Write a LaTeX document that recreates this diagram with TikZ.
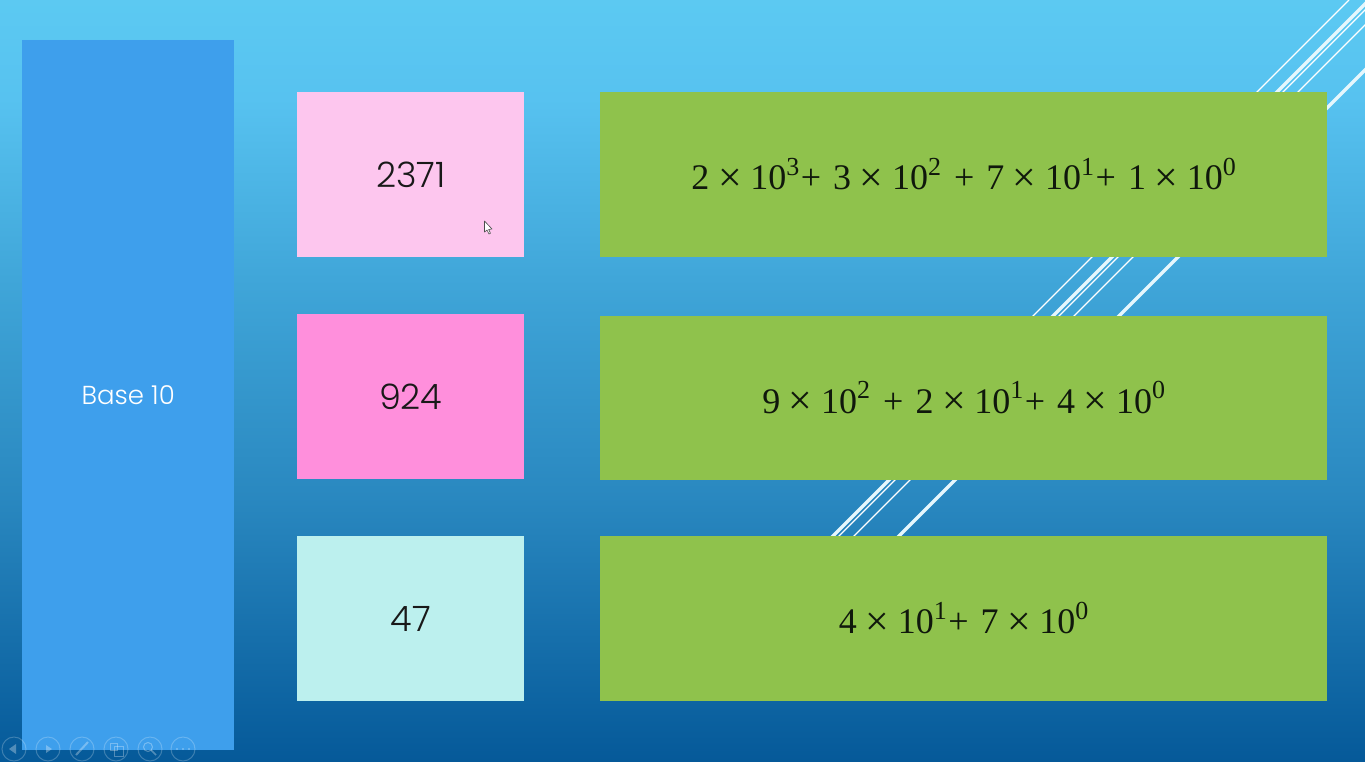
\documentclass[tikz,border=0pt]{standalone}
\usepackage{fontspec}
\setmainfont{Liberation Serif}
\newfontfamily\lightsans{Poppins Light}
\definecolor{leftblue}{HTML}{3E9FEC}
\definecolor{pinkA}{HTML}{FDC6EE}
\definecolor{pinkB}{HTML}{FF8FDC}
\definecolor{aqua}{HTML}{BCF0EE}
\definecolor{greenbox}{HTML}{8FC24C}
\definecolor{ink}{HTML}{10180C}
\pgfdeclareverticalshading{slidebgv}{100bp}{
  rgb(0bp)=(0.02,0.35,0.60);
  rgb(25bp)=(0.02,0.35,0.60);
  rgb(42bp)=(0.16,0.53,0.75);
  rgb(56.6bp)=(0.25,0.65,0.85);
  rgb(68.4bp)=(0.34,0.76,0.94);
  rgb(75bp)=(0.36,0.79,0.95);
  rgb(100bp)=(0.36,0.79,0.95)
}
\newcommand{\pw}[1]{\raisebox{0.40em}{\fontsize{26}{26}\selectfont #1}}
\newcommand{\xx}{\kern8.6pt\raisebox{-0.05em}{\fontsize{42}{42}\selectfont ×}\kern8.6pt}
\newcommand{\pl}{\kern1.5pt+\kern12pt}
\newcommand{\pll}{\kern13pt+\kern12pt}
\tikzset{
  x=1pt,y=-1pt,
  box/.style={draw=none,inner sep=0pt,minimum width=#1,anchor=north west},
  numbox/.style={box=227pt,minimum height=165pt,font=\lightsans\fontsize{35}{38}\selectfont,text=black!90},
  mathbox/.style={box=727pt,minimum height=165pt,fill=greenbox,text=ink,font=\fontsize{36}{38}\selectfont},
  thinstripe/.style={draw=white,line width=1.3pt},
  thickstripe/.style={draw=white!90!cyan,line width=3.4pt},
  ctrl/.style={draw=white,opacity=0.22,line width=1pt},
  ctrlfill/.style={fill=white,opacity=0.3,draw=none}
}
\begin{document}
\begin{tikzpicture}
\useasboundingbox (0,0) rectangle (1365,761);
\begin{scope}
\clip (0,0) rectangle (1365,761);
\shade[shading=slidebgv] (0,0) rectangle (1365,761);
% stripes
\draw[thinstripe] (1349,0) -- (1000,349);
\draw[thickstripe] (1369,0) -- (769,600);
\draw[thinstripe] (1375,0) -- (775,600);
\draw[thinstripe] (1390,0) -- (790,600);
\draw[thickstripe] (1435,0) -- (835,600);
\end{scope}
% boxes
\node[box=212pt,minimum height=710pt,fill=leftblue,text=white,font=\lightsans\fontsize{26}{28}\selectfont] (base) at (22,40) {Base 10};
\node[numbox,fill=pinkA] (n1) at (297,92) {\raisebox{-1.5pt}{2371}};
\node[numbox,fill=pinkB] (n2) at (297,314) {924};
\node[numbox,fill=aqua] (n3) at (297,536) {47};
\node[mathbox] (m1) at (600,92) {2\xx 10\pw{3}\pl 3\xx 10\pw{2}\pll 7\xx 10\pw{1}\pl 1\xx 10\pw{0}};
\node[mathbox,minimum height=164pt] (m2) at (600,316) {9\xx 10\pw{2}\pll 2\xx 10\pw{1}\pl 4\xx 10\pw{0}};
\node[mathbox] (m3) at (600,536) {4\xx 10\pw{1}\pl 7\xx 10\pw{0}};
% cursor
\draw[draw=black!70,fill=white,line width=0.6pt,line join=round] (484.5,221) -- (484.5,232) -- (487,230) -- (489,234) -- (490.5,233.2) -- (488.7,229.5) -- (492,229) -- cycle;
% slide-show controls
\foreach \cx/\nm in {14/c1,48/c2,82/c3,116/c4,150/c5,183/c6}
  \node[circle,ctrl,minimum size=24pt,inner sep=0pt] (\nm) at (\cx,749) {};
\fill[ctrlfill] (9,749) -- (16,744) -- (16,754) -- cycle;
\fill[ctrlfill] (52,749) -- (46,745) -- (46,753) -- cycle;
\draw[draw=white,opacity=0.3,line width=2pt] (76,755) -- (88,742);
\draw[draw=white,opacity=0.3,line width=1pt] (110,743) rectangle (117,750);
\draw[draw=white,opacity=0.3,line width=1pt] (114,746) rectangle (123,756);
\draw[draw=white,opacity=0.3,line width=1pt] (148,747) circle (4.5);
\draw[draw=white,opacity=0.3,line width=1.5pt] (151,750) -- (156,755);
\fill[ctrlfill] (177,749) circle (1.2) (183,749) circle (1.2) (189,749) circle (1.2);
\end{tikzpicture}
\end{document}
